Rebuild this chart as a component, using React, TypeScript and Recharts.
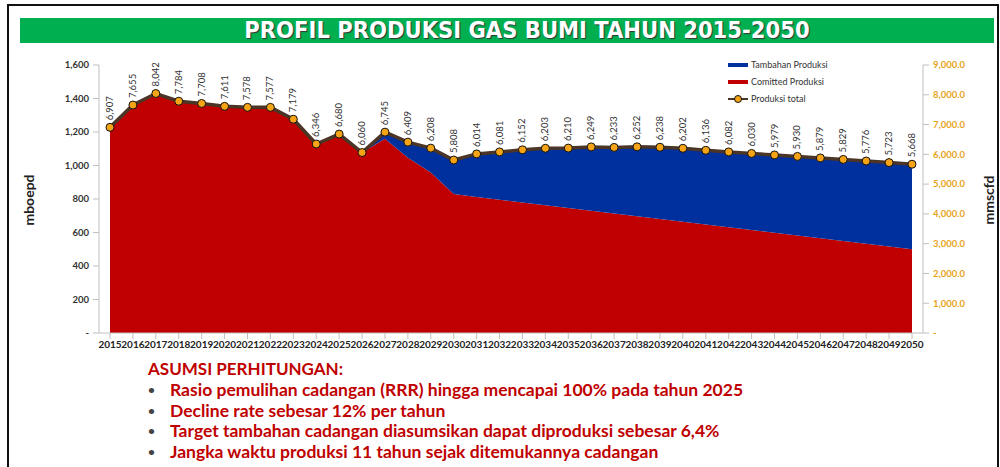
import {
  ComposedChart,
  Area,
  Line,
  XAxis,
  YAxis,
  LabelList,
} from "recharts";

const years = [
  "2015", "2016", "2017", "2018", "2019", "2020", "2021", "2022", "2023", "2024",
  "2025", "2026", "2027", "2028", "2029", "2030", "2031", "2032", "2033", "2034",
  "2035", "2036", "2037", "2038", "2039", "2040", "2041", "2042", "2043", "2044",
  "2045", "2046", "2047", "2048", "2049", "2050",
];

// mboepd (left axis)
const committed = [
  1228, 1361, 1430, 1384, 1370, 1353, 1347, 1347, 1276, 1128,
  1188, 1077, 1160, 1047, 958, 830, 812, 795, 779, 762,
  746, 730, 713, 697, 680, 664, 648, 631, 615, 598,
  582, 566, 549, 533, 517, 500,
];

const tambahan = [
  0, 0, 0, 0, 0, 0, 0, 0, 0, 0,
  0, 0, 39, 92, 146, 203, 257, 286, 315, 341,
  358, 381, 395, 414, 429, 439, 443, 450, 457, 465,
  472, 479, 487, 494, 500, 508,
];

// mmscfd (right axis)
const total = [
  6907, 7655, 8042, 7784, 7708, 7611, 7578, 7577, 7179, 6346,
  6680, 6060, 6745, 6409, 6208, 5808, 6014, 6081, 6152, 6203,
  6210, 6249, 6233, 6252, 6238, 6202, 6136, 6082, 6030, 5979,
  5930, 5879, 5829, 5776, 5723, 5668,
];

const leftTicks = [0, 200, 400, 600, 800, 1000, 1200, 1400, 1600];
const rightTicks = [0, 1000, 2000, 3000, 4000, 5000, 6000, 7000, 8000, 9000];

const notes = [
  "Rasio pemulihan cadangan (RRR) hingga mencapai 100% pada tahun 2025",
  "Decline rate sebesar 12% per tahun",
  "Target tambahan cadangan diasumsikan dapat diproduksi sebesar 6,4%",
  "Jangka waktu produksi 11 tahun sejak ditemukannya cadangan",
];

const data = years.map((y, i) => ({
  year: y,
  committed: committed[i],
  tambahan: tambahan[i],
  total: total[i],
}));

const RED = "#C00000";
const BLUE = "#002F9E";
const LINE = "#4A3526";
const ORANGE = "#F5A417";
const FONT = "Lato, 'Open Sans', sans-serif";

const fmt = (v: number) => (v === 0 ? "-" : v.toLocaleString("en-US"));
const fmtRight = (v: number) =>
  v === 0 ? "-" : v.toLocaleString("en-US", { minimumFractionDigits: 1 });

const TotalLabel = (props: any) => {
  const { x, y, value } = props;
  return (
    <text
      x={x + 3}
      y={y - 7}
      transform={`rotate(-90 ${x + 3} ${y - 7})`}
      textAnchor="start"
      fontSize={9.5}
      fontFamily={FONT}
      fill="#333"
    >
      {value.toLocaleString("en-US")}
    </text>
  );
};

const Dot = (props: any) => {
  const { cx, cy } = props;
  return <circle cx={cx} cy={cy} r={4} fill={ORANGE} stroke="#111" strokeWidth={1} />;
};

export default function App() {
  return (
    <div
      style={{
        position: "absolute",
        left: 0,
        top: 0,
        width: 1000,
        height: 467,
        background: "white",
        overflow: "hidden",
        fontFamily: FONT,
      }}
    >
      {/* frame */}
      <div
        style={{
          position: "absolute",
          left: 7,
          top: 4,
          width: 988,
          height: 480,
          border: "2px solid #111",
        }}
      />
      {/* title bar */}
      <div
        style={{
          position: "absolute",
          left: 20,
          top: 18,
          width: 974,
          height: 25,
          background: "#00B050",
          color: "white",
          fontFamily: "'DejaVu Sans Condensed', 'Liberation Sans Narrow', sans-serif",
          fontWeight: 700,
          fontSize: 23.5,
          lineHeight: "25px",
          textAlign: "center",
          textShadow: "1px 1px 1px #333",
          paddingLeft: 40,
          boxSizing: "border-box",
        }}
      >
        PROFIL PRODUKSI GAS BUMI TAHUN 2015-2050
      </div>

      {/* axis titles */}
      <div
        style={{
          position: "absolute",
          left: 28,
          top: 200,
          transform: "translate(-50%, -50%) rotate(-90deg)",
          fontSize: 14,
          fontWeight: 700,
          color: "#222",
        }}
      >
        mboepd
      </div>
      <div
        style={{
          position: "absolute",
          left: 988,
          top: 200,
          transform: "translate(-50%, -50%) rotate(-90deg)",
          fontSize: 14,
          fontWeight: 700,
          color: "#222",
        }}
      >
        mmscfd
      </div>

      <div style={{ position: "absolute", left: 0, top: 50 }}>
        <ComposedChart
          width={1000}
          height={310}
          data={data}
          margin={{ top: 15, right: 17, bottom: 2, left: 40 }}
        >
          <XAxis
            dataKey="year"
            interval={0}
            padding={{ left: 11, right: 11 }}
            tick={{ fontSize: 10, fontWeight: 700, fill: "#222", fontFamily: FONT }}
            tickLine={{ stroke: "#BFBFBF" }}
            axisLine={{ stroke: "#BFBFBF" }}
            height={25}
          />
          <YAxis
            yAxisId="left"
            domain={[0, 1600]}
            ticks={leftTicks}
            tickFormatter={fmt}
            width={59}
            tick={{ fontSize: 9.5, fontWeight: 700, fill: "#333", fontFamily: FONT }}
            tickLine={{ stroke: "#BFBFBF" }}
            axisLine={{ stroke: "#BFBFBF" }}
            tickMargin={4}
          />
          <YAxis
            yAxisId="right"
            orientation="right"
            domain={[0, 9000]}
            ticks={rightTicks}
            tickFormatter={fmtRight}
            width={60}
            tick={{ fontSize: 9.5, fontWeight: 700, fill: "#E8A31C", fontFamily: FONT }}
            tickLine={{ stroke: "#BFBFBF" }}
            axisLine={{ stroke: "#BFBFBF" }}
            tickMargin={4}
          />
          <Area
            yAxisId="left"
            type="linear"
            dataKey="committed"
            stackId="a"
            fill={RED}
            fillOpacity={1}
            stroke="none"
            isAnimationActive={false}
          />
          <Area
            yAxisId="left"
            type="linear"
            dataKey="tambahan"
            stackId="a"
            fill={BLUE}
            fillOpacity={1}
            stroke="none"
            isAnimationActive={false}
          />
          <Line
            yAxisId="right"
            type="linear"
            dataKey="total"
            stroke={LINE}
            strokeWidth={3.5}
            dot={<Dot />}
            isAnimationActive={false}
          >
            <LabelList dataKey="total" content={<TotalLabel />} />
          </Line>
        </ComposedChart>
      </div>

      {/* legend */}
      <div
        style={{
          position: "absolute",
          left: 728,
          top: 56,
          fontSize: 9,
          color: "#333",
          lineHeight: "17px",
        }}
      >
        <div style={{ display: "flex", alignItems: "center" }}>
          <span style={{ width: 20, height: 4, background: BLUE, marginRight: 3 }} />
          Tambahan Produksi
        </div>
        <div style={{ display: "flex", alignItems: "center" }}>
          <span style={{ width: 20, height: 4, background: RED, marginRight: 3 }} />
          Comitted Produksi
        </div>
        <div style={{ display: "flex", alignItems: "center" }}>
          <svg width={20} height={10} style={{ marginRight: 3 }}>
            <line x1={0} y1={5} x2={20} y2={5} stroke={LINE} strokeWidth={2} />
            <circle cx={10} cy={5} r={3.5} fill={ORANGE} stroke="#111" strokeWidth={1} />
          </svg>
          Produksi total
        </div>
      </div>

      {/* notes */}
      <div
        style={{
          position: "absolute",
          left: 148,
          top: 358,
          color: RED,
          fontWeight: 700,
        }}
      >
        <div style={{ fontSize: 17, lineHeight: "22px" }}>ASUMSI PERHITUNGAN:</div>
        {notes.map((n) => (
          <div
            key={n}
            style={{ fontSize: 17.5, lineHeight: "20.6px", display: "flex" }}
          >
            <span style={{ width: 22, color: "#444", fontSize: 12 }}>•</span>
            <span>{n}</span>
          </div>
        ))}
      </div>
    </div>
  );
}
